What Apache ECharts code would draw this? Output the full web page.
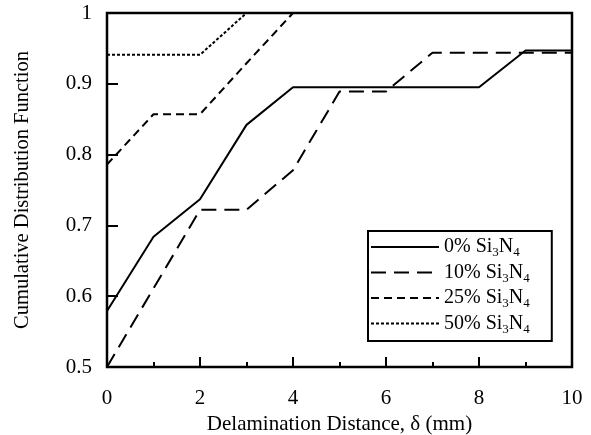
<!DOCTYPE html>
<html><head><meta charset="utf-8">
<script src="https://cdn.jsdelivr.net/npm/echarts@6/dist/echarts.min.js"></script>
<style>html,body{margin:0;padding:0;background:#fff}#c{width:591px;height:435px}</style>
</head><body><div id="c"></div>
<script>
const xValues = [0,1,2,3,4,5,6,7,8,9,10];
const s0  = [0.579,0.684,0.737,0.842,0.895,0.895,0.895,0.895,0.895,0.947,0.947];
const s10 = [0.5,0.611,0.722,0.722,0.778,0.889,0.889,0.944,0.944,0.944,0.944];
const s25 = [0.786,0.857,0.857,0.929,1,1,1,1,1,1,1];
const s50 = [0.941,0.941,0.941,1,1,1,1,1,1,1,1];
const names = ['0% Si{s|3}N{s|4}','10% Si{s|3}N{s|4}','25% Si{s|3}N{s|4}','50% Si{s|3}N{s|4}'];
const dashes = ['solid',[15,8],[8,5],[3,2]];
const allData = [s0,s10,s25,s50];
const font = 'Liberation Serif';
const chart = echarts.init(document.getElementById('c'));
chart.setOption({
  animation:false,
  backgroundColor:'#fff',
  grid:{left:107,right:19,top:13,bottom:68,outerBoundsMode:'none',containLabel:false,
    show:true,borderColor:'#000',borderWidth:2.5,backgroundColor:'transparent'},
  xAxis:{type:'value',min:0,max:10,interval:2,
    name:'Delamination Distance, δ (mm)',nameLocation:'middle',nameGap:35,
    nameTextStyle:{fontFamily:font,fontSize:21,color:'#000'},
    axisLine:{show:true,onZero:false,lineStyle:{color:'#000',width:2}},
    axisTick:{show:true,inside:true,length:10,lineStyle:{color:'#000',width:2}},
    minorTick:{show:true,splitNumber:2,length:5,lineStyle:{color:'#000',width:2}},
    splitLine:{show:false},
    axisLabel:{fontFamily:font,fontSize:21,color:'#000',margin:21}},
  yAxis:{type:'value',min:0.5,max:1,interval:0.1,
    name:'Cumulative Distribution Function',nameLocation:'middle',nameGap:74,
    nameTextStyle:{fontFamily:font,fontSize:20.5,color:'#000'},
    axisLine:{show:true,onZero:false,lineStyle:{color:'#000',width:2}},
    axisTick:{inside:true,length:11,lineStyle:{color:'#000',width:2}},
    splitLine:{show:false},
    axisLabel:{fontFamily:font,fontSize:21,color:'#000',margin:15,
      formatter:v=>String(Math.round(v*10)/10)}},
  legend:{orient:'vertical',left:368,top:231,
    backgroundColor:'#fff',borderColor:'#000',borderWidth:2,
    padding:[6,22,5,2],itemGap:3,itemWidth:68,itemHeight:20,
    itemStyle:{opacity:0},
    textStyle:{fontFamily:font,fontSize:20,color:'#000',
      rich:{s:{fontFamily:font,fontSize:13,color:'#000',verticalAlign:'bottom',padding:[12,0,0,0]}}},
    data:names},
  series:names.map((n,i)=>({
    name:n,type:'line',symbol:'none',z:3-i+2,
    data:xValues.map((x,j)=>[x,allData[i][j]]),
    lineStyle:{color:'#000',width:2,type:dashes[i]},
    itemStyle:{color:'#000'}
  }))
});
</script></body></html>
